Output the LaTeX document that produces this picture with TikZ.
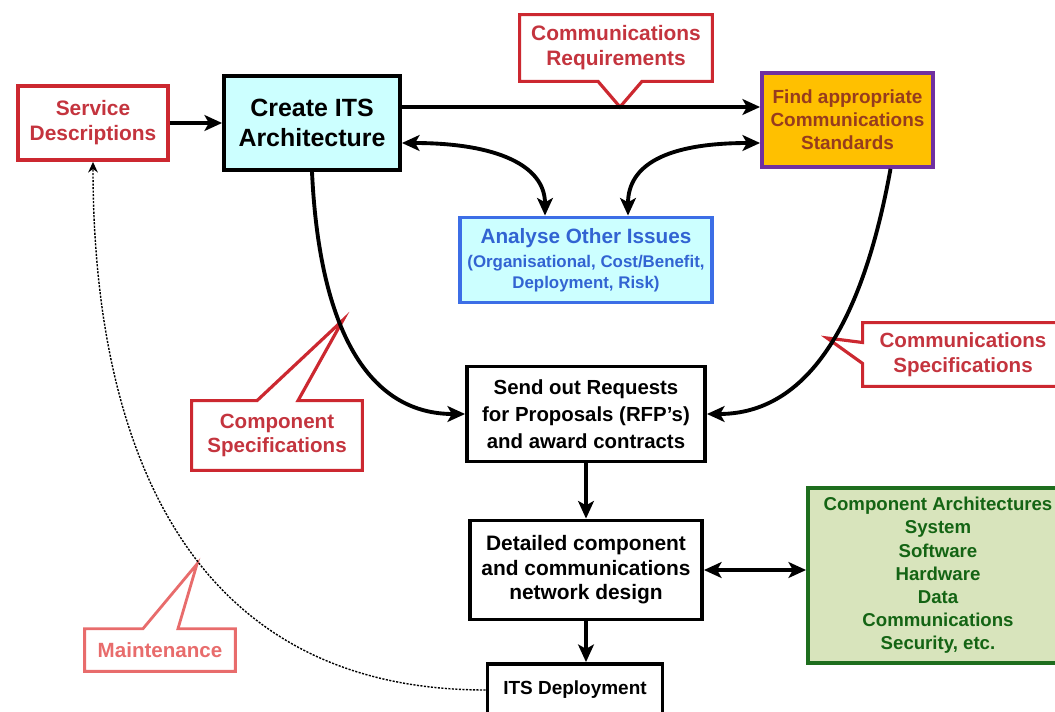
\documentclass[tikz,border=0pt]{standalone}
\usepackage{fontspec}
\setmainfont{Liberation Sans}
\usepackage{tikz}
\usetikzlibrary{arrows.meta}

\definecolor{calred}{RGB}{204,40,48}
\definecolor{caltext}{RGB}{196,52,62}
\definecolor{maintred}{RGB}{232,108,108}
\definecolor{cyanfill}{RGB}{204,255,255}
\definecolor{goldfill}{RGB}{255,192,0}
\definecolor{purpleline}{RGB}{112,48,160}
\definecolor{browntext}{RGB}{150,60,30}
\definecolor{blueline}{RGB}{60,110,230}
\definecolor{bluetext}{RGB}{50,100,210}
\definecolor{greenfill}{RGB}{216,228,188}
\definecolor{greenline}{RGB}{30,110,30}
\definecolor{greentext}{RGB}{20,100,20}

\begin{document}
\begin{tikzpicture}[
    x=0.2mm, y=-0.2mm,
    >=Stealth,
    box/.style={draw, line width=2.2pt, align=center, inner sep=0pt},
    note/.style={align=center, inner sep=0pt, text=caltext},
    noteline/.style={draw=calred, line width=1.8pt},
    arrow/.style={-{Stealth[length=10pt, width=9pt, inset=2.5pt]},
                  line width=2.2pt},
    dblarrow/.style={{Stealth[length=10pt, width=9pt, inset=2.5pt]}-%
                     {Stealth[length=10pt, width=9pt, inset=2.5pt]},
                     line width=2.2pt},
    dotarrow/.style={-{Stealth[length=6pt, width=5.5pt]}, line width=0.8pt,
                     dash pattern=on 1.2pt off 0.8pt},
  ]

  % ══════════════════════════════════════════════
  % Frame — pixel grid of the drawing (1 unit = 0.2mm, y down)
  % ══════════════════════════════════════════════
  \useasboundingbox (0,0) rectangle (1055,711);
  \clip (0,0) rectangle (1055,711);
  \fill[white] (0,0) rectangle (1055,711);

  % ── Top row: inputs, architecture, standards ──
  \node[box, draw=calred, text=caltext, minimum width=30mm,
    minimum height=14.8mm,
    font={\fontsize{11.9}{14.2}\selectfont\bfseries}]
    at (93,123) (serv) {Service\\Descriptions};
  \node[box, fill=cyanfill, minimum width=35.2mm, minimum height=18.8mm,
    font={\fontsize{14.2}{17}\selectfont\bfseries}]
    at (312,123) (create) {Create ITS\\Architecture};
  \node[box, draw=purpleline, fill=goldfill, text=browntext,
    minimum width=34.2mm, minimum height=18.8mm,
    font={\fontsize{10.8}{13}\selectfont\bfseries}]
    at (847.5,120) (find) {Find appropriate\\Communications\\Standards};

  % ── Middle: other issues, tendering ──
  \node[box, draw=blueline, fill=cyanfill, text=bluetext,
    minimum width=50.4mm, minimum height=17mm,
    font={\fontsize{11.8}{13.6}\selectfont\bfseries}]
    at (586,260) (analyse)
    {Analyse Other Issues\\
     {\fontsize{9.6}{11.9}\selectfont (Organisational, Cost/Benefit,}\\[-1.7pt]
     {\fontsize{9.6}{11.9}\selectfont Deployment, Risk)}};
  \node[box, minimum width=47.6mm, minimum height=19mm,
    font={\fontsize{11.6}{15.3}\selectfont\bfseries}]
    at (586,414) (send)
    {Send out Requests\\for Proposals (RFP’s)\\and award contracts};

  % ── Bottom: design, architectures, deployment ──
  \node[box, minimum width=46.4mm, minimum height=19.8mm,
    font={\fontsize{11.9}{13.9}\selectfont\bfseries}]
    at (586,570) (detailed)
    {Detailed component\\and communications\\network design};
  \node[box, draw=greenline, fill=greenfill, text=greentext,
    minimum width=52mm, minimum height=35mm,
    font={\fontsize{10.6}{13.2}\selectfont\bfseries}]
    at (938,575.5) (comparch)
    {Component Architectures\\System\\Software\\Hardware\\Data\\
     Communications\\Security, etc.};
  \node[box, minimum width=35mm, minimum height=10.4mm,
    font={\fontsize{10.8}{13}\selectfont\bfseries}]
    at (575,690) (deploy) {ITS Deployment};

  % ══════════════════════════════════════════════
  % Callouts — text node, then outline with its pointer
  % ══════════════════════════════════════════════

  % ── Communications Requirements (points down to top arrow) ──
  \node[note, minimum width=38.4mm, minimum height=13.2mm,
    font={\fontsize{11.9}{14.2}\selectfont\bfseries}]
    at (616,48) (commreq) {Communications\\Requirements};
  \coordinate (commreqtip) at (620,107);
  \draw[noteline] (commreq.south west) -- (commreq.north west)
    -- (commreq.north east) -- (commreq.south east)
    -- ([xshift=5.2mm]commreq.south) -- (commreqtip)
    -- ([xshift=-3.6mm]commreq.south) -- cycle;

  % ── Component Specifications (points up to left curve) ──
  \node[note, minimum width=34mm, minimum height=13.8mm,
    font={\fontsize{11.7}{13.6}\selectfont\bfseries}]
    at (277,435.5) (compspec) {Component\\Specifications};
  \coordinate (compspectip) at (343,320);
  \draw[noteline] (compspec.north west) -- ([xshift=-4mm]compspec.north)
    -- (compspectip) -- ([xshift=4.2mm]compspec.north)
    -- (compspec.north east) -- (compspec.south east)
    -- (compspec.south west) -- cycle;

  % ── Communications Specifications (points left to right curve) ──
  \node[note, minimum width=40mm, minimum height=12.6mm,
    font={\fontsize{11.7}{14.2}\selectfont\bfseries}]
    at (963,354.5) (commspec) {Communications\\Specifications};
  \coordinate (commspectip) at (827,338);
  \draw[noteline] (commspec.north west) -- (commspec.north east)
    -- (commspec.south east) -- (commspec.south west)
    -- ([yshift=-1.8mm]commspec.west) -- (commspectip)
    -- ([yshift=2.4mm]commspec.west) -- cycle;

  % ── Maintenance (faded, points up to dotted return) ──
  \node[note, text=maintred, minimum width=30mm, minimum height=8.4mm,
    font={\fontsize{11.7}{14}\selectfont\bfseries}]
    at (160,650) (maint) {Maintenance};
  \coordinate (mainttip) at (197,564);
  \draw[noteline, draw=maintred, line width=1.6pt]
    (maint.north west) -- ([xshift=-3.4mm]maint.north)
    -- (mainttip) -- ([xshift=3.6mm]maint.north)
    -- (maint.north east) -- (maint.south east)
    -- (maint.south west) -- cycle;

  % ══════════════════════════════════════════════
  % Arrows
  % ══════════════════════════════════════════════

  % ── Service Descriptions → Create ITS Architecture ──
  \draw[arrow] (serv) -- (create);

  % ── Architecture → Standards (straight, upper) ──
  \draw[arrow] ([yshift=3.2mm]create.east) -- ([yshift=2.6mm]find.west);

  % ── Both top boxes ↔ Analyse Other Issues (bent down) ──
  \draw[dblarrow] ([yshift=-4mm]create.east)
    .. controls +(95,0) and +(0,-50) .. ([xshift=-8.2mm]analyse.north);
  \draw[dblarrow] ([yshift=-4.6mm]find.west)
    .. controls +(-95,0) and +(0,-50) .. ([xshift=8.4mm]analyse.north);

  % ── Specifications feed the RFP box from both sides ──
  \draw[arrow] (create.south)
    .. controls +(8,170) and +(-90,0) .. (send.west);
  \draw[arrow] ([xshift=8.6mm]find.south)
    .. controls +(-20,110) and +(120,0) .. (send.east);

  % ── Down the middle column ──
  \draw[arrow] (send) -- (detailed);
  \draw[dblarrow] (detailed.east) -- (detailed.east -| comparch.west);
  \draw[arrow] (detailed.south) -- (detailed.south |- deploy.north);

  % ── Maintenance loop: deployment back to service descriptions ──
  \draw[dotarrow] (deploy.west)
    .. controls +(-315,0) and +(0,255) .. (serv.south);

\end{tikzpicture}
\end{document}
